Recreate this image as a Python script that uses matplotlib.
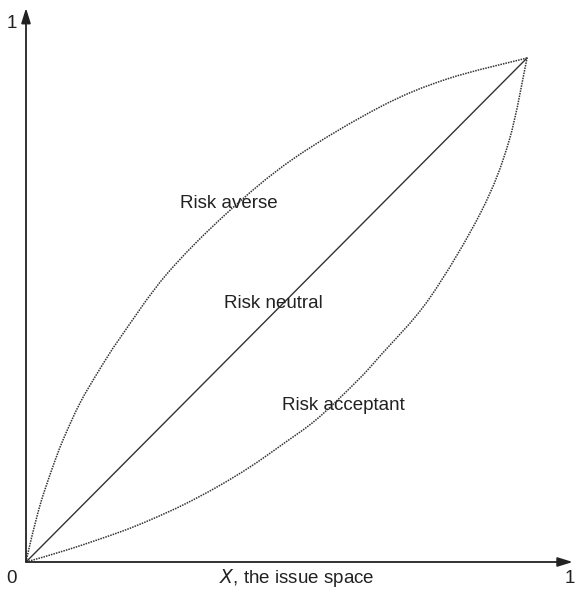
import numpy as np
import matplotlib.pyplot as plt
from matplotlib.path import Path
from matplotlib.patches import PathPatch

plt.rcParams['font.family'] = ['Liberation Sans', 'DejaVu Sans']

# points, in axis units (0..1)
averse_x = [0.0, 0.0105, 0.0270, 0.0472, 0.0680, 0.0993, 0.1347, 0.1728, 0.2574,
            0.3676, 0.4908, 0.6507, 0.7739, 0.9210]
averse_y = [0.0, 0.0451, 0.1065, 0.1661, 0.2202, 0.2870, 0.3466, 0.4043, 0.5181,
            0.6282, 0.7274, 0.8213, 0.8718, 0.9097]

accept_x = [0.0, 0.0809, 0.1728, 0.2279, 0.2886, 0.3511, 0.4118, 0.4724, 0.5349,
            0.6085, 0.6507, 0.7408, 0.8364, 0.8879, 0.9210]
accept_y = [0.0, 0.0235, 0.0542, 0.0758, 0.1029, 0.1354, 0.1715, 0.2130, 0.2581,
            0.3267, 0.3718, 0.4747, 0.6318, 0.7599, 0.9097]

neutral_x = [0.0, 0.9210]
neutral_y = [0.0, 0.9097]

labels = ["Risk averse", "Risk neutral", "Risk acceptant"]
label_pos = [(0.372, 0.648), (0.454, 0.466), (0.583, 0.282)]


def smooth_path(xs, ys):
    # Catmull-Rom through the read points, drawn as cubic Bezier segments
    p = np.column_stack([xs, ys])
    ext = np.vstack([p[0], p, p[-1]])
    verts = [p[0]]
    codes = [Path.MOVETO]
    for i in range(len(p) - 1):
        p0, p1, p2, p3 = ext[i], ext[i + 1], ext[i + 2], ext[i + 3]
        verts += [p1 + (p2 - p0) / 6, p2 - (p3 - p1) / 6, p2]
        codes += [Path.CURVE4] * 3
    return Path(verts, codes)


fig = plt.figure(figsize=(5.78, 5.94), dpi=100)
ax = fig.add_axes([26 / 578, 32 / 594, 544 / 578, 554 / 594])
ax.set_xlim(0, 1)
ax.set_ylim(0, 1)
ax.axis("off")

line_col = "#333333"
dotted = (0, (1, 0.7))
for xs, ys in [(averse_x, averse_y), (accept_x, accept_y)]:
    ax.add_patch(PathPatch(smooth_path(xs, ys), fill=False, edgecolor=line_col,
                           lw=1.1, linestyle=dotted))
ax.plot(neutral_x, neutral_y, color=line_col, lw=1.0)

# axes with arrow heads
arrow = dict(arrowstyle="-|>,head_length=0.9,head_width=0.28", color="#222222",
             lw=1.3, shrinkA=0, shrinkB=0)
ax.annotate("", xy=(0, 1.0), xytext=(0, 0), arrowprops=arrow, annotation_clip=False)
ax.annotate("", xy=(1.005, 0), xytext=(0, 0), arrowprops=arrow, annotation_clip=False)

for txt, (x, y) in zip(labels, label_pos):
    ax.text(x, y, txt, fontsize=13.5, ha="center", va="center", color="#222222")

ax.text(-0.026, -0.029, "0", fontsize=13.5, ha="center", va="center", color="#222222",
        clip_on=False)
ax.text(-0.026, 0.972, "1", fontsize=13.5, ha="center", va="center", color="#222222",
        clip_on=False)
ax.text(1.0, -0.029, "1", fontsize=13.5, ha="center", va="center", color="#222222",
        clip_on=False)
ax.text(0.498, -0.029, "$\\it{X}$, the issue space", fontsize=13.5, ha="center",
        va="center", color="#222222", clip_on=False)

fig.savefig("out.png", dpi=100)
